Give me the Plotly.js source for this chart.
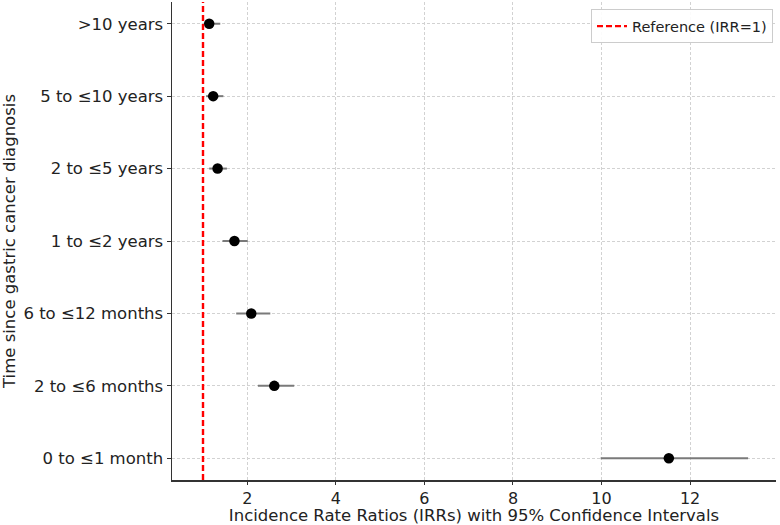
<!DOCTYPE html>
<html>
<head>
<meta charset="utf-8">
<script src="https://cdn.plot.ly/plotly-3.0.1.min.js"></script>
<style>html,body{margin:0;padding:0;background:#fff;}#chart{width:780px;height:525px;}</style>
</head>
<body>
<div id="chart"></div>
<script>
const categories = ["0 to \u22641 month", "2 to \u22646 months", "6 to \u226412 months", "1 to \u22642 years", "2 to \u22645 years", "5 to \u226410 years", ">10 years"];
const irr = [11.52, 2.61, 2.09, 1.71, 1.33, 1.23, 1.14];
const ciLower = [9.98, 2.24, 1.75, 1.44, 1.14, 1.07, 1.02];
const ciUpper = [13.31, 3.06, 2.52, 2.01, 1.54, 1.46, 1.39];
const referenceIRR = 1;
const xTicks = [2, 4, 6, 8, 10, 12];

const trace = {
  type: "scatter",
  mode: "markers",
  x: irr,
  y: categories,
  showlegend: false,
  marker: {color: "black", size: 10.5},
  error_x: {
    type: "data",
    symmetric: false,
    array: irr.map((v, i) => ciUpper[i] - v),
    arrayminus: irr.map((v, i) => v - ciLower[i]),
    color: "#7a7a7a",
    thickness: 2,
    width: 0
  },
  hoverinfo: "x+y"
};

const layout = {
  width: 780,
  height: 525,
  margin: {l: 172, r: 4, t: 2, b: 45},
  paper_bgcolor: "#fff",
  plot_bgcolor: "#fff",
  font: {family: "DejaVu Sans, sans-serif", size: 16.5, color: "#222"},
  xaxis: {
    range: [0.3, 13.94],
    tickvals: xTicks,
    ticks: "outside",
    ticklen: 3,
    tickcolor: "#333",
    showline: true,
    linecolor: "#333",
    linewidth: 1.5,
    showgrid: true,
    gridcolor: "#d2d2d2",
    griddash: "3px,2px",
    gridwidth: 1,
    zeroline: false,
    tickfont: {size: 16},
    title: {text: "Incidence Rate Ratios (IRRs) with 95% Confidence Intervals", font: {size: 16.5}, standoff: 3}
  },
  yaxis: {
    type: "category",
    categoryorder: "array",
    categoryarray: categories,
    range: [-0.3, 6.3],
    ticks: "outside",
    ticklen: 4,
    tickcolor: "#333",
    showline: true,
    linecolor: "#333",
    linewidth: 1.5,
    showgrid: true,
    gridcolor: "#d2d2d2",
    griddash: "3px,2px",
    gridwidth: 1,
    zeroline: false,
    tickfont: {size: 16.5},
    title: {text: "Time since gastric cancer diagnosis", font: {size: 16.5}, standoff: 8}
  },
  shapes: [{
    type: "line",
    xref: "x",
    yref: "paper",
    x0: referenceIRR,
    x1: referenceIRR,
    y0: 0,
    y1: 1,
    line: {color: "red", width: 2.4, dash: "6px,3px"},
    showlegend: true,
    name: "Reference (IRR=1)"
  }],
  showlegend: true,
  legend: {
    x: 0.995,
    y: 0.985,
    xanchor: "right",
    yanchor: "top",
    bgcolor: "rgba(255,255,255,0.9)",
    bordercolor: "#cccccc",
    borderwidth: 1,
    font: {size: 14.5, color: "#222"}
  }
};

Plotly.newPlot("chart", [trace], layout, {displayModeBar: false, staticPlot: true});
</script>
</body>
</html>
